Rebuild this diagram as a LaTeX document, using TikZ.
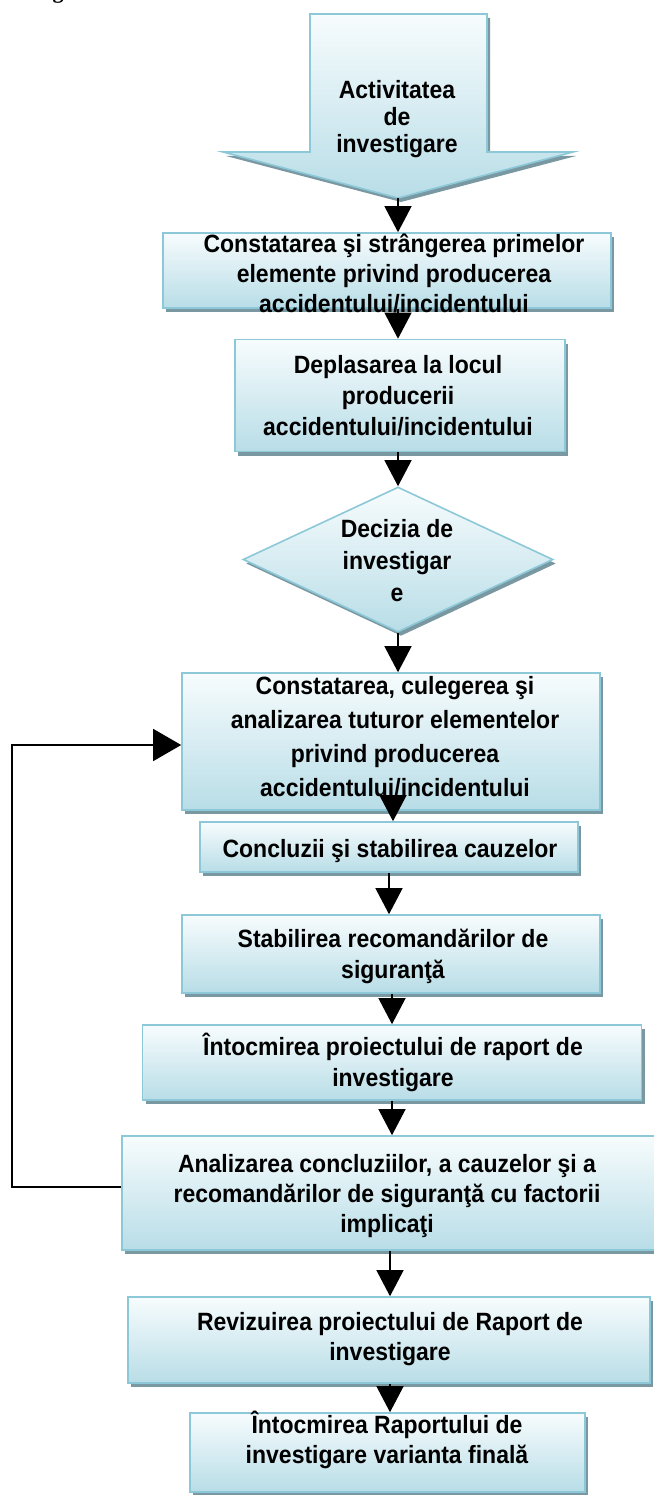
\documentclass[tikz,border=0pt]{standalone}
\usepackage{fontspec}
\setmainfont{Liberation Sans}[FakeStretch=0.92]
\newfontfamily\serifbold{Liberation Serif}
\usetikzlibrary{arrows.meta,shapes.geometric,shadows}
\definecolor{bordc}{RGB}{140,200,216}
\definecolor{topc}{RGB}{247,252,253}
\definecolor{botc}{RGB}{184,221,231}
\definecolor{shadc}{RGB}{122,152,162}
\newcommand\tstrut{\rule{0pt}{24pt}}
\tikzset{
  box/.style={rectangle, draw=bordc, line width=1.6pt, top color=topc, bottom color=botc,
    inner sep=0pt, drop shadow={shadow xshift=3pt, shadow yshift=-4pt, fill=shadc, opacity=1}},
  dbox/.style={diamond, draw=bordc, line width=1.6pt, top color=topc, bottom color=botc,
    inner sep=0pt, drop shadow={shadow xshift=3pt, shadow yshift=-4pt, fill=shadc, opacity=1}},
  lbl/.style={font=\bfseries\fontsize{25}{#1}\selectfont, align=center, inner sep=0pt, anchor=north},
  lbl/.default=30,
  arr/.style={line width=1.3pt, -{Triangle[length=26pt,width=27pt]}},
  arrf/.style={line width=1.3pt, -{Triangle[length=28pt,width=32pt]}},
}
\begin{document}
\begin{tikzpicture}[x=1pt,y=-1pt]
\useasboundingbox (0,0) rectangle (653,1495);
\fill[white] (0,0) rectangle (653,1495);
% cut caption fragment
\node[font=\serifbold\bfseries\fontsize{22}{26}\selectfont, anchor=base, inner sep=0pt] (cap) at (58,-1) {g};
% top block arrow
\path[draw=bordc, line width=1.6pt, top color=topc, bottom color=botc,
  drop shadow={shadow xshift=3pt, shadow yshift=-4pt, fill=shadc, opacity=1}]
  (310,14) -- (487,14) -- (487,152) -- (573,152) -- (398,198) -- (223,152) -- (310,152) -- cycle;
\coordinate (tip) at (398,198);
\node[lbl=27] (t0) at (397,74) {\tstrut Activitatea\\de\\investigare};
% column coordinates
\coordinate (x398) at (398,0);
\coordinate (x393) at (393,0);
\coordinate (x389) at (389,0);
\coordinate (x392) at (392,0);
\coordinate (x390) at (390,0);
\coordinate (fb) at (12,0);
% boxes
\node[box, minimum width=448pt, minimum height=75pt] (b1) at (387,270.5) {};
\node[lbl] (t1) at (394,228) {\tstrut Constatarea şi strângerea primelor\\elemente privind producerea\\accidentului/incidentului};
\node[box, minimum width=330pt, minimum height=112pt] (b2) at (400,395.5) {};
\node[lbl=31] (t2) at (398,349) {\tstrut Deplasarea la locul\\producerii\\accidentului/incidentului};
\node[dbox, minimum width=310pt, minimum height=145pt] (d) at (398,559.5) {};
\node[lbl=32] (t3) at (397,513) {\tstrut Decizia de\\investigar\\e};
\node[box, minimum width=418pt, minimum height=137pt] (b3) at (391,741.5) {};
\node[lbl=34] (t4) at (395,670) {\tstrut Constatarea, culegerea şi\\analizarea tuturor elementelor\\privind producerea\\accidentului/incidentului};
\node[box, minimum width=378pt, minimum height=50pt] (c) at (389,847) {};
\node[lbl] (t5) at (390,833) {\tstrut Concluzii şi stabilirea cauzelor};
\node[box, minimum width=418pt, minimum height=78pt] (s) at (391,954) {};
\node[lbl=31] (t6) at (393,923) {\tstrut Stabilirea recomandărilor de\\siguranţă};
\node[box, minimum width=499pt, minimum height=75pt] (i) at (392,1062.5) {};
\node[lbl=31] (t7) at (393,1031) {\tstrut Întocmirea proiectului de raport de\\investigare};
\node[box, minimum width=548pt, minimum height=114pt] (a) at (396,1193) {};
\node[lbl] (t8) at (387,1148) {\tstrut Analizarea concluziilor, a cauzelor şi a\\recomandărilor de siguranţă cu factorii\\implicaţi};
\node[box, minimum width=522pt, minimum height=86pt] (r) at (389,1340) {};
\node[lbl] (t9) at (390,1306) {\tstrut Revizuirea proiectului de Raport de\\investigare};
\node[box, minimum width=395pt, minimum height=79pt] (f) at (387.5,1452.5) {};
\node[lbl] (t10) at (387,1409) {\tstrut Întocmirea Raportului de\\investigare varianta finală};
% feedback anchor points
\coordinate (aout) at ([yshift=6pt]a.west);
\coordinate (b3in) at ([yshift=-3.5pt]b3.west);
% connectors
\draw[arr] (tip) -- (tip |- b1.north);
\draw[arr] (b1.south -| x398) -- (b2.north -| x398);
\draw[arr] (b2.south -| x398) -- (d.north);
\draw[arr] (d.south) -- (d.south |- b3.north);
\draw[arr] (b3.south -| x393) -- (c.north -| x393);
\draw[arr] (c.south -| x389) -- (s.north -| x389);
\draw[arr] (s.south -| x392) -- (i.north -| x392);
\draw[arr] (i.south -| x392) -- (a.north -| x392);
\draw[arr] (a.south -| x390) -- (r.north -| x390);
\draw[arr] (r.south -| x390) -- (f.north -| x390);
\draw[arrf] (aout) -- (aout -| fb) -- (b3in -| fb) -- (b3in);
\end{tikzpicture}
\end{document}
